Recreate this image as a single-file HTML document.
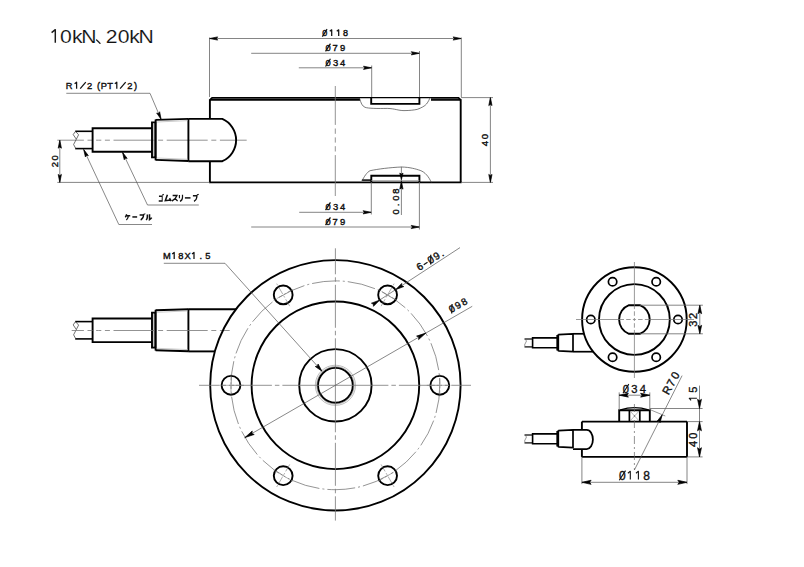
<!DOCTYPE html>
<html><head><meta charset="utf-8"><style>
html,body{margin:0;padding:0;background:#fff;width:804px;height:567px;overflow:hidden}
svg{display:block}
text{font-family:"Liberation Sans",sans-serif}
</style></head><body>
<svg width="804" height="567" viewBox="0 0 804 567">
<rect width="804" height="567" fill="#fff"/>
<path d="M55.3,42.8 V29.6 L51.6,32.6" stroke="#1a1a1a" stroke-width="1.45" fill="none" stroke-linejoin="round"/>
<text transform="translate(65.90,42.8) scale(1.12,1)" font-size="18.9" text-anchor="middle" fill="#111" stroke="#fff" stroke-width="0.12">0</text>
<text transform="translate(77.30,42.8) scale(1.12,1)" font-size="18.9" text-anchor="middle" fill="#111" stroke="#fff" stroke-width="0.12">k</text>
<text transform="translate(89.00,42.8) scale(1.12,1)" font-size="18.9" text-anchor="middle" fill="#111" stroke="#fff" stroke-width="0.12">N</text>
<text transform="translate(111.75,42.8) scale(1.12,1)" font-size="18.9" text-anchor="middle" fill="#111" stroke="#fff" stroke-width="0.12">2</text>
<text transform="translate(123.75,42.8) scale(1.12,1)" font-size="18.9" text-anchor="middle" fill="#111" stroke="#fff" stroke-width="0.12">0</text>
<text transform="translate(134.55,42.8) scale(1.12,1)" font-size="18.9" text-anchor="middle" fill="#111" stroke="#fff" stroke-width="0.12">k</text>
<text transform="translate(146.10,42.8) scale(1.12,1)" font-size="18.9" text-anchor="middle" fill="#111" stroke="#fff" stroke-width="0.12">N</text>
<path d="M96.6,39.9 Q98.6,41.6 100.0,43.4" stroke="#1a1a1a" stroke-width="1.3" fill="none" stroke-linecap="round"/>
<line x1="209.90" y1="99.20" x2="209.90" y2="118.90" stroke="#000" stroke-width="1.9" fill="none" />
<line x1="209.90" y1="161.20" x2="209.90" y2="182.40" stroke="#000" stroke-width="1.9" fill="none" />
<line x1="460.70" y1="99.20" x2="460.70" y2="182.40" stroke="#000" stroke-width="1.9" fill="none" />
<path d="M209.90,99.9 L212.10,97.9 L360,97.9 M431,97.9 L458.50,97.9 L460.70,99.9" stroke="#000" stroke-width="1.8" fill="none" stroke-linejoin="miter"/>
<line x1="209.90" y1="99.90" x2="360.00" y2="99.90" stroke="#000" stroke-width="1.7" />
<line x1="431.00" y1="99.90" x2="460.70" y2="99.90" stroke="#000" stroke-width="1.7" />
<line x1="360.00" y1="97.60" x2="431.00" y2="97.60" stroke="#000" stroke-width="1.35" />
<path d="M371.20,97.60 L371.20,103.90 L419.40,103.90 L419.40,97.60" stroke="#000" stroke-width="1.9" fill="none"/>
<path d="M359.7,98.5 C361,103 362,106 365,107.3 C368,108.5 378,108.6 387.3,108.4 C395,108.6 398,110.6 404,110.6 C410,110.6 414,110 417.2,109.4 C421,108 425,106 426.5,104 C428.5,101.5 429.5,99 430,97.6" stroke="#444" stroke-width="0.7" fill="none"/>
<line x1="209.00" y1="182.40" x2="461.60" y2="182.40" stroke="#000" stroke-width="1.9" fill="none" />
<path d="M371.30,182.40 L371.30,175.70 L419.40,175.70 L419.40,182.40" stroke="#000" stroke-width="1.9" fill="none"/>
<line x1="361.90" y1="180.10" x2="371.30" y2="180.10" stroke="#000" stroke-width="1.5" />
<line x1="371.30" y1="180.60" x2="419.40" y2="180.60" stroke="#999" stroke-width="0.8" />
<path d="M361.9,181 C364,177 367,172 370.1,170.7 C378,169 390,167.5 401.5,167 C410,167.2 416,169 420.1,170.4 C425,172 429,177 431.3,182.4" stroke="#444" stroke-width="0.7" fill="none"/>
<path d="M335.30,140.00 L335.30,142.60 M335.30,146.20 L335.30,151.50 M335.30,155.10 L335.30,196.00 M335.30,140.00 L335.30,137.40 M335.30,133.80 L335.30,128.50 M335.30,124.90 L335.30,86.00 " stroke="#777" stroke-width="0.8" fill="none"/>
<path d="M98.70,140.20 L101.30,140.20 M104.90,140.20 L109.90,140.20 M113.50,140.20 L154.50,140.20 M158.10,140.20 L163.10,140.20 M166.70,140.20 L207.70,140.20 M211.30,140.20 L216.30,140.20 M219.90,140.20 L246.70,140.20 M98.70,140.20 L96.10,140.20 M92.50,140.20 L87.50,140.20 M83.90,140.20 L57.30,140.20 " stroke="#777" stroke-width="0.8" fill="none"/>
<line x1="209.50" y1="38.50" x2="461.30" y2="38.50" stroke="#666" stroke-width="0.8" fill="none" />
<line x1="209.50" y1="37.50" x2="209.50" y2="97.00" stroke="#666" stroke-width="0.8" fill="none" />
<line x1="461.30" y1="37.50" x2="461.30" y2="97.00" stroke="#666" stroke-width="0.8" fill="none" />
<path d="M209.70,38.50 L217.70,36.88 L216.42,38.50 L217.70,40.12 Z" fill="#000" stroke="#000" stroke-width="0.7" stroke-linejoin="round"/>
<path d="M461.10,38.50 L453.10,40.12 L454.38,38.50 L453.10,36.88 Z" fill="#000" stroke="#000" stroke-width="0.7" stroke-linejoin="round"/>
<g><text x="324.70" y="36.10" font-size="9.0" font-weight="normal" text-anchor="middle" fill="#111" stroke="#111" stroke-width="0.4">0</text><line x1="322.36" y1="36.70" x2="327.04" y2="29.20" stroke="#111" stroke-width="1.25"/><path d="M331.70,36.10 V29.80 L329.76,31.33" stroke="#111" stroke-width="1.25" fill="none" stroke-linejoin="round"/><path d="M338.70,36.10 V29.80 L336.76,31.33" stroke="#111" stroke-width="1.25" fill="none" stroke-linejoin="round"/><text x="345.50" y="36.10" font-size="9.0" font-weight="normal" text-anchor="middle" fill="#111" stroke="#111" stroke-width="0.4">8</text></g>
<line x1="251.20" y1="53.30" x2="419.50" y2="53.30" stroke="#666" stroke-width="0.8" fill="none" />
<line x1="419.50" y1="51.00" x2="419.50" y2="97.00" stroke="#666" stroke-width="0.8" fill="none" />
<path d="M419.30,53.30 L411.30,54.92 L412.58,53.30 L411.30,51.68 Z" fill="#000" stroke="#000" stroke-width="0.7" stroke-linejoin="round"/>
<g><text x="328.00" y="50.80" font-size="9.4" font-weight="normal" text-anchor="middle" fill="#111" stroke="#111" stroke-width="0.4">0</text><line x1="325.56" y1="51.40" x2="330.44" y2="43.62" stroke="#111" stroke-width="1.25"/><text x="335.20" y="50.80" font-size="9.4" font-weight="normal" text-anchor="middle" fill="#111" stroke="#111" stroke-width="0.4">7</text><text x="342.50" y="50.80" font-size="9.4" font-weight="normal" text-anchor="middle" fill="#111" stroke="#111" stroke-width="0.4">9</text></g>
<line x1="298.80" y1="67.80" x2="371.70" y2="67.80" stroke="#666" stroke-width="0.8" fill="none" />
<line x1="371.70" y1="65.50" x2="371.70" y2="97.00" stroke="#666" stroke-width="0.8" fill="none" />
<path d="M371.50,67.80 L363.50,69.42 L364.78,67.80 L363.50,66.18 Z" fill="#000" stroke="#000" stroke-width="0.7" stroke-linejoin="round"/>
<g><text x="328.00" y="65.90" font-size="9.4" font-weight="normal" text-anchor="middle" fill="#111" stroke="#111" stroke-width="0.4">0</text><line x1="325.56" y1="66.50" x2="330.44" y2="58.72" stroke="#111" stroke-width="1.25"/><text x="335.50" y="65.90" font-size="9.4" font-weight="normal" text-anchor="middle" fill="#111" stroke="#111" stroke-width="0.4">3</text><text x="342.60" y="65.90" font-size="9.4" font-weight="normal" text-anchor="middle" fill="#111" stroke="#111" stroke-width="0.4">4</text></g>
<line x1="461.00" y1="97.60" x2="493.00" y2="97.60" stroke="#666" stroke-width="0.8" fill="none" />
<line x1="461.00" y1="182.40" x2="493.00" y2="182.40" stroke="#666" stroke-width="0.8" fill="none" />
<line x1="490.40" y1="97.60" x2="490.40" y2="182.40" stroke="#666" stroke-width="0.8" fill="none" />
<path d="M490.40,97.60 L492.02,105.60 L490.40,104.32 L488.78,105.60 Z" fill="#000" stroke="#000" stroke-width="0.7" stroke-linejoin="round"/>
<path d="M490.40,182.40 L488.78,174.40 L490.40,175.68 L492.02,174.40 Z" fill="#000" stroke="#000" stroke-width="0.7" stroke-linejoin="round"/>
<g transform="translate(488.00,0) rotate(-90)"><text x="-143.60" y="0.00" font-size="9.6" font-weight="normal" text-anchor="middle" fill="#111" stroke="#111" stroke-width="0.4">4</text><text x="-136.65" y="0.00" font-size="9.6" font-weight="normal" text-anchor="middle" fill="#111" stroke="#111" stroke-width="0.4">0</text></g>
<line x1="371.30" y1="182.00" x2="371.30" y2="214.50" stroke="#666" stroke-width="0.8" fill="none" />
<line x1="419.40" y1="182.00" x2="419.40" y2="229.50" stroke="#666" stroke-width="0.8" fill="none" />
<line x1="299.20" y1="212.30" x2="371.30" y2="212.30" stroke="#666" stroke-width="0.8" fill="none" />
<path d="M371.10,212.30 L363.10,213.92 L364.38,212.30 L363.10,210.68 Z" fill="#000" stroke="#000" stroke-width="0.7" stroke-linejoin="round"/>
<line x1="251.20" y1="227.00" x2="419.40" y2="227.00" stroke="#666" stroke-width="0.8" fill="none" />
<path d="M419.20,227.00 L411.20,228.62 L412.48,227.00 L411.20,225.38 Z" fill="#000" stroke="#000" stroke-width="0.7" stroke-linejoin="round"/>
<g><text x="328.00" y="209.60" font-size="9.4" font-weight="normal" text-anchor="middle" fill="#111" stroke="#111" stroke-width="0.4">0</text><line x1="325.56" y1="210.20" x2="330.44" y2="202.42" stroke="#111" stroke-width="1.25"/><text x="335.50" y="209.60" font-size="9.4" font-weight="normal" text-anchor="middle" fill="#111" stroke="#111" stroke-width="0.4">3</text><text x="342.60" y="209.60" font-size="9.4" font-weight="normal" text-anchor="middle" fill="#111" stroke="#111" stroke-width="0.4">4</text></g>
<g><text x="328.00" y="224.50" font-size="9.4" font-weight="normal" text-anchor="middle" fill="#111" stroke="#111" stroke-width="0.4">0</text><line x1="325.56" y1="225.10" x2="330.44" y2="217.32" stroke="#111" stroke-width="1.25"/><text x="335.20" y="224.50" font-size="9.4" font-weight="normal" text-anchor="middle" fill="#111" stroke="#111" stroke-width="0.4">7</text><text x="342.50" y="224.50" font-size="9.4" font-weight="normal" text-anchor="middle" fill="#111" stroke="#111" stroke-width="0.4">9</text></g>
<line x1="401.40" y1="166.80" x2="401.40" y2="215.00" stroke="#666" stroke-width="0.8" fill="none" />
<path d="M401.40,179.60 L399.78,173.10 L401.40,174.14 L403.02,173.10 Z" fill="#000" stroke="#000" stroke-width="0.7" stroke-linejoin="round"/>
<path d="M401.40,181.20 L403.02,189.20 L401.40,187.92 L399.78,189.20 Z" fill="#000" stroke="#000" stroke-width="0.7" stroke-linejoin="round"/>
<g transform="translate(398.70,0) rotate(-90)"><text x="-211.90" y="0.00" font-size="9.4" font-weight="normal" text-anchor="middle" fill="#111" stroke="#111" stroke-width="0.4">0</text><text x="-204.90" y="0.00" font-size="9.4" font-weight="normal" text-anchor="middle" fill="#111" stroke="#111" stroke-width="0.4">.</text><text x="-198.10" y="0.00" font-size="9.4" font-weight="normal" text-anchor="middle" fill="#111" stroke="#111" stroke-width="0.4">0</text><text x="-191.20" y="0.00" font-size="9.4" font-weight="normal" text-anchor="middle" fill="#111" stroke="#111" stroke-width="0.4">8</text></g>
<line x1="57.30" y1="182.40" x2="209.90" y2="182.40" stroke="#666" stroke-width="0.8" fill="none" />
<line x1="59.80" y1="140.20" x2="59.80" y2="182.40" stroke="#666" stroke-width="0.8" fill="none" />
<path d="M59.80,140.20 L61.42,148.20 L59.80,146.92 L58.18,148.20 Z" fill="#000" stroke="#000" stroke-width="0.7" stroke-linejoin="round"/>
<path d="M59.80,182.40 L58.18,174.40 L59.80,175.68 L61.42,174.40 Z" fill="#000" stroke="#000" stroke-width="0.7" stroke-linejoin="round"/>
<g transform="translate(57.80,0) rotate(-90)"><text x="-164.55" y="0.00" font-size="9.4" font-weight="normal" text-anchor="middle" fill="#111" stroke="#111" stroke-width="0.4">2</text><text x="-157.90" y="0.00" font-size="9.4" font-weight="normal" text-anchor="middle" fill="#111" stroke="#111" stroke-width="0.4">0</text></g>
<line x1="75.20" y1="131.30" x2="92.60" y2="131.30" stroke="#000" stroke-width="1.6" />
<line x1="75.20" y1="148.60" x2="92.60" y2="148.60" stroke="#000" stroke-width="1.6" />
<path d="M75.5,131.30 L78.6,134.80 L73.6,144.50 L75.8,148.60 M75.5,131.30 L73.2,134.60 L76.2,139.00" stroke="#333" stroke-width="0.7" fill="none"/>
<path d="M152.00,128.20 L92.60,128.20 L92.60,151.80 L152.00,151.80" stroke="#000" stroke-width="1.9" fill="none"/>
<path d="M152.00,122.40 L155.40,122.40 L155.40,157.20 L152.00,157.20 Z" stroke="#000" stroke-width="1.9" fill="none"/>
<line x1="153.70" y1="123.00" x2="153.70" y2="156.60" stroke="#999" stroke-width="0.7" />
<path d="M155.60,119.90 L188.40,118.90" stroke="#000" stroke-width="1.9" fill="none"/>
<path d="M155.60,159.90 L188.40,161.00" stroke="#000" stroke-width="1.9" fill="none"/>
<line x1="155.60" y1="119.50" x2="155.60" y2="160.30" stroke="#000" stroke-width="1.9" fill="none" />
<line x1="188.40" y1="118.50" x2="188.40" y2="161.40" stroke="#000" stroke-width="1.9" fill="none" />
<line x1="157.00" y1="122.00" x2="188.00" y2="120.60" stroke="#aaa" stroke-width="0.6" />
<line x1="157.00" y1="158.00" x2="188.00" y2="159.30" stroke="#aaa" stroke-width="0.6" />
<path d="M188.4,118.9 L222.3,118.9 A23.1,23.1 0 0 1 222.3,161.2 L188.4,161.2" stroke="#000" stroke-width="1.9" fill="none"/>
<line x1="66.30" y1="93.30" x2="150.00" y2="93.30" stroke="#555" stroke-width="0.7" fill="none" />
<line x1="150.00" y1="93.30" x2="161.10" y2="119.30" stroke="#555" stroke-width="0.7" fill="none" />
<path d="M161.10,119.30 L156.67,113.04 L158.63,113.51 L159.65,111.77 Z" fill="#000" stroke="#000" stroke-width="0.7" stroke-linejoin="round"/>
<g><text x="69.20" y="88.70" font-size="9.3" font-weight="normal" text-anchor="middle" fill="#111" stroke="#111" stroke-width="0.4">R</text><path d="M76.60,88.70 V82.19 L74.61,83.77" stroke="#111" stroke-width="1.25" fill="none" stroke-linejoin="round"/><line x1="80.21" y1="88.70" x2="85.79" y2="82.19" stroke="#111" stroke-width="1.25"/><text x="89.60" y="88.70" font-size="9.3" font-weight="normal" text-anchor="middle" fill="#111" stroke="#111" stroke-width="0.4">2</text><text x="98.60" y="88.70" font-size="9.3" font-weight="normal" text-anchor="middle" fill="#111" stroke="#111" stroke-width="0.4">(</text><text x="103.90" y="88.70" font-size="9.3" font-weight="normal" text-anchor="middle" fill="#111" stroke="#111" stroke-width="0.4">P</text><text x="110.20" y="88.70" font-size="9.3" font-weight="normal" text-anchor="middle" fill="#111" stroke="#111" stroke-width="0.4">T</text><path d="M116.80,88.70 V82.19 L114.81,83.77" stroke="#111" stroke-width="1.25" fill="none" stroke-linejoin="round"/><line x1="120.11" y1="88.70" x2="125.69" y2="82.19" stroke="#111" stroke-width="1.25"/><text x="129.80" y="88.70" font-size="9.3" font-weight="normal" text-anchor="middle" fill="#111" stroke="#111" stroke-width="0.4">2</text><text x="135.60" y="88.70" font-size="9.3" font-weight="normal" text-anchor="middle" fill="#111" stroke="#111" stroke-width="0.4">)</text></g>
<line x1="122.50" y1="152.30" x2="147.50" y2="205.00" stroke="#555" stroke-width="0.7" fill="none" />
<line x1="147.50" y1="205.00" x2="198.80" y2="205.00" stroke="#555" stroke-width="0.7" fill="none" />
<path d="M122.50,152.30 L127.18,158.38 L125.20,157.99 L124.25,159.77 Z" fill="#000" stroke="#000" stroke-width="0.7" stroke-linejoin="round"/>
<line x1="83.70" y1="149.50" x2="118.80" y2="224.50" stroke="#555" stroke-width="0.7" fill="none" />
<line x1="118.80" y1="224.50" x2="152.00" y2="224.50" stroke="#555" stroke-width="0.7" fill="none" />
<path d="M83.70,149.50 L88.35,155.61 L86.37,155.21 L85.41,156.98 Z" fill="#000" stroke="#000" stroke-width="0.7" stroke-linejoin="round"/>
<path transform="translate(158.50,194.40) scale(0.4636,0.7000)" d="M1,2.5 H8 V9.5 M0.5,9.5 H9 M8.7,0 L9.4,1.4 M10.2,-0.3 L10.9,1.1" stroke="#111" stroke-width="2.143" fill="none" stroke-linecap="butt" stroke-linejoin="miter"/>
<path transform="translate(164.60,194.40) scale(0.7000,0.7000)" d="M4,0.5 L1,9 L9,8 M7,5.5 L9.5,9.5" stroke="#111" stroke-width="2.143" fill="none" stroke-linecap="butt" stroke-linejoin="miter"/>
<path transform="translate(171.70,194.40) scale(0.6200,0.7000)" d="M1.5,1.5 H8.5 C7,5 4,8 0.5,9.5 M5,5.5 L9.5,9.5" stroke="#111" stroke-width="2.143" fill="none" stroke-linecap="butt" stroke-linejoin="miter"/>
<path transform="translate(178.30,194.40) scale(0.5600,0.7000)" d="M2,1 V5.5 M7.5,0.5 V4 C7.5,7 5.5,9 3,10" stroke="#111" stroke-width="2.143" fill="none" stroke-linecap="butt" stroke-linejoin="miter"/>
<path transform="translate(184.60,194.40) scale(0.6200,0.7000)" d="M0.5,5 H9.5" stroke="#111" stroke-width="2.143" fill="none" stroke-linecap="butt" stroke-linejoin="miter"/>
<path transform="translate(192.35,194.40) scale(0.5455,0.7000)" d="M1,2 H8.5 C8.5,5 7,8 3,10 M8.9,-0.2 L9.6,1.2 M10.4,-0.5 L11.1,0.9" stroke="#111" stroke-width="2.143" fill="none" stroke-linecap="butt" stroke-linejoin="miter"/>
<path transform="translate(125.00,213.90) scale(0.5500,0.6100)" d="M3,0.5 C2.5,2.5 1.5,4 0.5,5.5 M2,3 H9.5 M6,3 C6,6 4.5,8.5 2.5,10" stroke="#111" stroke-width="2.459" fill="none" stroke-linecap="butt" stroke-linejoin="miter"/>
<path transform="translate(132.10,213.90) scale(0.5300,0.6100)" d="M0.5,5 H9.5" stroke="#111" stroke-width="2.459" fill="none" stroke-linecap="butt" stroke-linejoin="miter"/>
<path transform="translate(139.10,213.90) scale(0.5273,0.6100)" d="M1,2 H8.5 C8.5,5 7,8 3,10 M8.9,-0.2 L9.6,1.2 M10.4,-0.5 L11.1,0.9" stroke="#111" stroke-width="2.459" fill="none" stroke-linecap="butt" stroke-linejoin="miter"/>
<path transform="translate(145.80,213.90) scale(0.6200,0.6100)" d="M2.5,1 V5 C2.5,7.5 1.5,9 0.5,10 M6,0.5 V9.5 C7.5,8.5 8.5,7.5 9.5,6" stroke="#111" stroke-width="2.459" fill="none" stroke-linecap="butt" stroke-linejoin="miter"/>
<line x1="75.20" y1="321.60" x2="92.60" y2="321.60" stroke="#000" stroke-width="1.6" />
<line x1="75.20" y1="338.90" x2="92.60" y2="338.90" stroke="#000" stroke-width="1.6" />
<path d="M75.5,321.60 L78.6,325.10 L73.6,334.80 L75.8,338.90 M75.5,321.60 L73.2,324.90 L76.2,329.30" stroke="#333" stroke-width="0.7" fill="none"/>
<path d="M152.00,318.50 L92.60,318.50 L92.60,342.10 L152.00,342.10" stroke="#000" stroke-width="1.9" fill="none"/>
<path d="M152.00,312.70 L155.40,312.70 L155.40,347.50 L152.00,347.50 Z" stroke="#000" stroke-width="1.9" fill="none"/>
<line x1="153.70" y1="313.30" x2="153.70" y2="346.90" stroke="#999" stroke-width="0.7" />
<path d="M155.60,310.20 L188.40,309.20" stroke="#000" stroke-width="1.9" fill="none"/>
<path d="M155.60,350.20 L188.40,351.30" stroke="#000" stroke-width="1.9" fill="none"/>
<line x1="155.60" y1="309.80" x2="155.60" y2="350.60" stroke="#000" stroke-width="1.9" fill="none" />
<line x1="188.40" y1="308.80" x2="188.40" y2="351.70" stroke="#000" stroke-width="1.9" fill="none" />
<line x1="157.00" y1="312.30" x2="188.00" y2="310.90" stroke="#aaa" stroke-width="0.6" />
<line x1="157.00" y1="348.30" x2="188.00" y2="349.60" stroke="#aaa" stroke-width="0.6" />
<path d="M98.70,330.50 L101.30,330.50 M104.90,330.50 L109.90,330.50 M113.50,330.50 L154.50,330.50 M158.10,330.50 L163.10,330.50 M166.70,330.50 L207.70,330.50 M211.30,330.50 L216.30,330.50 M219.90,330.50 L229.70,330.50 M98.70,330.50 L96.10,330.50 M92.50,330.50 L87.50,330.50 M83.90,330.50 L71.70,330.50 " stroke="#777" stroke-width="0.8" fill="none"/>
<line x1="188.40" y1="309.20" x2="235.98" y2="309.20" stroke="#000" stroke-width="1.9" fill="none" />
<line x1="188.40" y1="351.40" x2="214.88" y2="351.40" stroke="#000" stroke-width="1.9" fill="none" />
<circle cx="335.40" cy="385.30" r="125.20" stroke="#000" stroke-width="1.9" fill="none" />
<circle cx="335.40" cy="385.30" r="83.80" stroke="#000" stroke-width="1.9" fill="none" />
<circle cx="335.40" cy="385.30" r="36.20" stroke="#000" stroke-width="1.9" fill="none" />
<circle cx="335.40" cy="385.30" r="17.40" stroke="#000" stroke-width="1.9" fill="none" />
<circle cx="335.40" cy="385.30" r="18.70" stroke="#666" stroke-width="0.55" fill="none" />
<circle cx="335.40" cy="385.30" r="20.10" stroke="#888" stroke-width="0.55" fill="none" />
<circle cx="335.40" cy="385.30" r="104.40" stroke="#666" stroke-width="0.7" fill="none" stroke-dasharray="28 3 2 3" />
<circle cx="439.80" cy="385.30" r="9.40" stroke="#000" stroke-width="1.9" fill="none" />
<line x1="426.80" y1="385.30" x2="452.80" y2="385.30" stroke="#777" stroke-width="0.6" stroke-dasharray="8 2 2 2" />
<line x1="439.80" y1="396.30" x2="439.80" y2="374.30" stroke="#777" stroke-width="0.6" stroke-dasharray="6 2 2 2" />
<circle cx="387.60" cy="475.71" r="9.40" stroke="#000" stroke-width="1.9" fill="none" />
<line x1="381.10" y1="464.45" x2="394.10" y2="486.97" stroke="#777" stroke-width="0.6" stroke-dasharray="8 2 2 2" />
<line x1="378.07" y1="481.21" x2="397.13" y2="470.21" stroke="#777" stroke-width="0.6" stroke-dasharray="6 2 2 2" />
<circle cx="283.20" cy="475.71" r="9.40" stroke="#000" stroke-width="1.9" fill="none" />
<line x1="289.70" y1="464.45" x2="276.70" y2="486.97" stroke="#777" stroke-width="0.6" stroke-dasharray="8 2 2 2" />
<line x1="273.67" y1="470.21" x2="292.73" y2="481.21" stroke="#777" stroke-width="0.6" stroke-dasharray="6 2 2 2" />
<circle cx="231.00" cy="385.30" r="9.40" stroke="#000" stroke-width="1.9" fill="none" />
<line x1="244.00" y1="385.30" x2="218.00" y2="385.30" stroke="#777" stroke-width="0.6" stroke-dasharray="8 2 2 2" />
<line x1="231.00" y1="374.30" x2="231.00" y2="396.30" stroke="#777" stroke-width="0.6" stroke-dasharray="6 2 2 2" />
<circle cx="283.20" cy="294.89" r="9.40" stroke="#000" stroke-width="1.9" fill="none" />
<line x1="289.70" y1="306.15" x2="276.70" y2="283.63" stroke="#777" stroke-width="0.6" stroke-dasharray="8 2 2 2" />
<line x1="292.73" y1="289.39" x2="273.67" y2="300.39" stroke="#777" stroke-width="0.6" stroke-dasharray="6 2 2 2" />
<circle cx="387.60" cy="294.89" r="9.40" stroke="#000" stroke-width="1.9" fill="none" />
<line x1="381.10" y1="306.15" x2="394.10" y2="283.63" stroke="#777" stroke-width="0.6" stroke-dasharray="8 2 2 2" />
<line x1="397.13" y1="300.39" x2="378.07" y2="289.39" stroke="#777" stroke-width="0.6" stroke-dasharray="6 2 2 2" />
<path d="M335.40,385.30 L335.40,432.30 M335.40,435.30 L335.40,439.80 M335.40,442.80 L335.40,485.80 M335.40,488.80 L335.40,493.30 M335.40,496.30 L335.40,520.60 M335.40,385.30 L335.40,338.30 M335.40,335.30 L335.40,330.80 M335.40,327.80 L335.40,284.80 M335.40,281.80 L335.40,277.30 M335.40,274.30 L335.40,248.30 " stroke="#777" stroke-width="0.8" fill="none"/>
<path d="M335.40,385.30 L388.40,385.30 M391.40,385.30 L395.90,385.30 M398.90,385.30 L441.90,385.30 M444.90,385.30 L449.40,385.30 M452.40,385.30 L471.00,385.30 M335.40,385.30 L282.40,385.30 M279.40,385.30 L274.90,385.30 M271.90,385.30 L228.90,385.30 M225.90,385.30 L221.40,385.30 M218.40,385.30 L199.00,385.30 " stroke="#777" stroke-width="0.8" fill="none"/>
<line x1="244.21" y1="437.95" x2="472.23" y2="306.30" stroke="#555" stroke-width="0.7" fill="none" />
<path d="M244.99,437.50 L252.22,431.02 L251.90,433.51 L254.21,434.48 Z" fill="#000" stroke="#000" stroke-width="0.7" stroke-linejoin="round"/>
<path d="M425.81,333.10 L418.58,339.58 L418.90,337.09 L416.59,336.12 Z" fill="#000" stroke="#000" stroke-width="0.7" stroke-linejoin="round"/>
<g transform="translate(451.3,313.0) rotate(-30)"><text x="2.60" y="0.00" font-size="9.7" font-weight="normal" text-anchor="middle" fill="#111" stroke="#111" stroke-width="0.4">0</text><line x1="0.08" y1="0.60" x2="5.12" y2="-7.39" stroke="#111" stroke-width="1.25"/><text x="9.60" y="0.00" font-size="9.7" font-weight="normal" text-anchor="middle" fill="#111" stroke="#111" stroke-width="0.4">9</text><text x="16.90" y="0.00" font-size="9.7" font-weight="normal" text-anchor="middle" fill="#111" stroke="#111" stroke-width="0.4">8</text></g>
<line x1="372.53" y1="304.73" x2="460.00" y2="247.60" stroke="#555" stroke-width="0.7" fill="none" />
<path d="M395.64,289.64 L401.72,283.41 L401.62,285.73 L403.79,286.57 Z" fill="#000" stroke="#000" stroke-width="0.7" stroke-linejoin="round"/>
<path d="M379.56,300.14 L373.48,306.37 L373.58,304.04 L371.41,303.20 Z" fill="#000" stroke="#000" stroke-width="0.7" stroke-linejoin="round"/>
<g transform="translate(419.4,270.9) rotate(-32)"><text x="2.70" y="0.00" font-size="10.2" font-weight="normal" text-anchor="middle" fill="#111" stroke="#111" stroke-width="0.4">6</text><line x1="6.96" y1="-3.00" x2="11.44" y2="-3.00" stroke="#111" stroke-width="1.25"/><text x="15.60" y="0.00" font-size="10.2" font-weight="normal" text-anchor="middle" fill="#111" stroke="#111" stroke-width="0.4">0</text><line x1="12.95" y1="0.60" x2="18.25" y2="-7.74" stroke="#111" stroke-width="1.25"/><text x="22.30" y="0.00" font-size="10.2" font-weight="normal" text-anchor="middle" fill="#111" stroke="#111" stroke-width="0.4">9</text><text x="28.30" y="0.00" font-size="10.2" font-weight="normal" text-anchor="middle" fill="#111" stroke="#111" stroke-width="0.4">.</text></g>
<line x1="163.80" y1="263.30" x2="225.00" y2="263.30" stroke="#555" stroke-width="0.7" fill="none" />
<line x1="225.00" y1="263.30" x2="322.00" y2="371.20" stroke="#555" stroke-width="0.7" fill="none" />
<path d="M322.00,371.20 L315.25,366.51 L317.51,366.20 L318.06,363.99 Z" fill="#000" stroke="#000" stroke-width="0.7" stroke-linejoin="round"/>
<g><text x="166.75" y="258.90" font-size="9.3" font-weight="normal" text-anchor="middle" fill="#111" stroke="#111" stroke-width="0.4">M</text><path d="M174.20,258.90 V252.39 L172.21,253.97" stroke="#111" stroke-width="1.25" fill="none" stroke-linejoin="round"/><text x="180.90" y="258.90" font-size="9.3" font-weight="normal" text-anchor="middle" fill="#111" stroke="#111" stroke-width="0.4">8</text><text x="187.60" y="258.90" font-size="9.3" font-weight="normal" text-anchor="middle" fill="#111" stroke="#111" stroke-width="0.4">X</text><path d="M194.00,258.90 V252.39 L192.01,253.97" stroke="#111" stroke-width="1.25" fill="none" stroke-linejoin="round"/><text x="200.70" y="258.90" font-size="9.3" font-weight="normal" text-anchor="middle" fill="#111" stroke="#111" stroke-width="0.4">.</text><text x="207.85" y="258.90" font-size="9.3" font-weight="normal" text-anchor="middle" fill="#111" stroke="#111" stroke-width="0.4">5</text></g>
<circle cx="634.40" cy="319.50" r="52.30" stroke="#000" stroke-width="1.9" fill="none" />
<circle cx="634.40" cy="319.50" r="35.40" stroke="#000" stroke-width="1.9" fill="none" />
<circle cx="678.00" cy="319.50" r="4.20" stroke="#000" stroke-width="1.7" fill="none" />
<circle cx="656.20" cy="357.26" r="4.20" stroke="#000" stroke-width="1.7" fill="none" />
<circle cx="612.60" cy="357.26" r="4.20" stroke="#000" stroke-width="1.7" fill="none" />
<circle cx="590.80" cy="319.50" r="4.20" stroke="#000" stroke-width="1.7" fill="none" />
<circle cx="612.60" cy="281.74" r="4.20" stroke="#000" stroke-width="1.7" fill="none" />
<circle cx="656.20" cy="281.74" r="4.20" stroke="#000" stroke-width="1.7" fill="none" />
<path d="M628.96,305.20 L639.84,305.20 A15.3,15.3 0 0 1 639.84,333.80 L628.96,333.80 A15.3,15.3 0 0 1 628.96,305.20 Z" stroke="#000" stroke-width="1.9" fill="none"/>
<path d="M634.40,319.50 L634.40,321.00 M634.40,323.20 L634.40,327.70 M634.40,329.90 L634.40,378.00 M634.40,319.50 L634.40,318.00 M634.40,315.80 L634.40,311.30 M634.40,309.10 L634.40,262.00 " stroke="#777" stroke-width="0.75" fill="none"/>
<path d="M634.40,319.50 L635.90,319.50 M638.10,319.50 L642.60,319.50 M644.80,319.50 L694.00,319.50 M634.40,319.50 L632.90,319.50 M630.70,319.50 L626.20,319.50 M624.00,319.50 L576.00,319.50 " stroke="#777" stroke-width="0.75" fill="none"/>
<line x1="639.84" y1="305.20" x2="702.90" y2="305.20" stroke="#666" stroke-width="0.8" fill="none" />
<line x1="639.84" y1="333.80" x2="702.90" y2="333.80" stroke="#666" stroke-width="0.8" fill="none" />
<line x1="699.80" y1="305.20" x2="699.80" y2="333.80" stroke="#666" stroke-width="0.8" fill="none" />
<path d="M699.80,305.20 L701.64,313.70 L699.80,312.34 L697.96,313.70 Z" fill="#000" stroke="#000" stroke-width="0.7" stroke-linejoin="round"/>
<path d="M699.80,333.80 L697.96,325.30 L699.80,326.66 L701.64,325.30 Z" fill="#000" stroke="#000" stroke-width="0.7" stroke-linejoin="round"/>
<g transform="translate(696.90,0) rotate(-90)"><text x="-323.60" y="0.00" font-size="11.0" font-weight="normal" text-anchor="middle" fill="#111" stroke="#111" stroke-width="0.35">3</text><text x="-315.90" y="0.00" font-size="11.0" font-weight="normal" text-anchor="middle" fill="#111" stroke="#111" stroke-width="0.35">2</text></g>
<line x1="524.50" y1="339.00" x2="532.60" y2="339.00" stroke="#000" stroke-width="1.2" />
<line x1="524.50" y1="346.90" x2="532.60" y2="346.90" stroke="#000" stroke-width="1.2" />
<path d="M525,339 L526.5,341 L524.5,345 L525.5,346.9" stroke="#555" stroke-width="0.6" fill="none"/>
<path d="M557.60,337.90 L532.60,337.90 L532.60,347.80 L557.60,347.80" stroke="#000" stroke-width="1.6" fill="none"/>
<path d="M558.3,334.6 L573,333.8 M558.3,350.8 L573,351.7 M558.3,334.2 L558.3,351.2 M573,333.4 L573,352.1" stroke="#000" stroke-width="1.7" fill="none"/>
<path d="M557.6,335 L557.6,350.5" stroke="#000" stroke-width="2.5" fill="none"/>
<line x1="573.00" y1="333.80" x2="584.09" y2="333.80" stroke="#000" stroke-width="1.7" />
<line x1="573.00" y1="351.70" x2="593.19" y2="351.70" stroke="#000" stroke-width="1.7" />
<line x1="581.90" y1="421.60" x2="687.00" y2="421.60" stroke="#000" stroke-width="1.9" fill="none" />
<line x1="581.90" y1="456.90" x2="687.00" y2="456.90" stroke="#000" stroke-width="1.9" fill="none" />
<line x1="687.00" y1="421.60" x2="687.00" y2="456.90" stroke="#000" stroke-width="1.9" fill="none" />
<line x1="581.90" y1="421.60" x2="581.90" y2="429.80" stroke="#000" stroke-width="1.9" fill="none" />
<line x1="581.90" y1="449.20" x2="581.90" y2="456.90" stroke="#000" stroke-width="1.9" fill="none" />
<path d="M619.2,421.6 L619.2,410.2 L649.8,410.2 L649.8,421.6" stroke="#000" stroke-width="1.9" fill="none"/>
<path d="M620.5,409.8 Q634.5,405.4 648.5,409.8" stroke="#000" stroke-width="1.4" fill="none"/>
<line x1="629.40" y1="410.00" x2="629.40" y2="421.60" stroke="#000" stroke-width="1.7" />
<line x1="639.80" y1="410.00" x2="639.80" y2="421.60" stroke="#000" stroke-width="1.7" />
<line x1="630.20" y1="411.20" x2="639.00" y2="420.80" stroke="#888" stroke-width="0.6" />
<line x1="639.00" y1="411.20" x2="630.20" y2="420.80" stroke="#888" stroke-width="0.6" />
<line x1="634.40" y1="404.00" x2="634.40" y2="470.00" stroke="#666" stroke-width="0.7" stroke-dasharray="8 3 2 3" />
<line x1="524.50" y1="435.00" x2="532.60" y2="435.00" stroke="#000" stroke-width="1.2" />
<line x1="524.50" y1="442.90" x2="532.60" y2="442.90" stroke="#000" stroke-width="1.2" />
<path d="M525,435.0 L526.5,437.0 L524.5,441.0 L525.5,442.9" stroke="#555" stroke-width="0.6" fill="none"/>
<path d="M557.60,433.90 L532.60,433.90 L532.60,443.80 L557.60,443.80" stroke="#000" stroke-width="1.6" fill="none"/>
<path d="M558.3,430.6 L573,429.8 M558.3,446.8 L573,447.7 M558.3,430.2 L558.3,447.2 M573,429.4 L573,448.1" stroke="#000" stroke-width="1.7" fill="none"/>
<path d="M557.6,431.0 L557.6,446.5" stroke="#000" stroke-width="2.5" fill="none"/>
<path d="M573,429.8 L586.7,429.8 A6.2,9.7 0 0 1 586.7,449.2 L573,449.2" stroke="#000" stroke-width="1.8" fill="none"/>
<line x1="619.20" y1="410.00" x2="619.20" y2="392.40" stroke="#666" stroke-width="0.8" fill="none" />
<line x1="649.80" y1="410.00" x2="649.80" y2="392.40" stroke="#666" stroke-width="0.8" fill="none" />
<line x1="619.20" y1="395.20" x2="649.80" y2="395.20" stroke="#666" stroke-width="0.8" fill="none" />
<path d="M619.20,395.20 L628.40,393.26 L626.93,395.20 L628.40,397.14 Z" fill="#000" stroke="#000" stroke-width="0.7" stroke-linejoin="round"/>
<path d="M649.80,395.20 L640.60,397.14 L642.07,395.20 L640.60,393.26 Z" fill="#000" stroke="#000" stroke-width="0.7" stroke-linejoin="round"/>
<g><text x="625.90" y="392.60" font-size="11.2" font-weight="normal" text-anchor="middle" fill="#111" stroke="#111" stroke-width="0.35">0</text><line x1="622.99" y1="393.20" x2="628.81" y2="384.16" stroke="#111" stroke-width="1.1"/><text x="634.30" y="392.60" font-size="11.2" font-weight="normal" text-anchor="middle" fill="#111" stroke="#111" stroke-width="0.35">3</text><text x="642.80" y="392.60" font-size="11.2" font-weight="normal" text-anchor="middle" fill="#111" stroke="#111" stroke-width="0.35">4</text></g>
<line x1="682.10" y1="375.60" x2="634.40" y2="470.00" stroke="#555" stroke-width="0.7" fill="none" />
<path d="M662.20,414.80 L660.04,422.67 L659.17,420.80 L657.15,421.21 Z" fill="#000" stroke="#000" stroke-width="0.7" stroke-linejoin="round"/>
<line x1="649.80" y1="409.50" x2="665.30" y2="416.00" stroke="#555" stroke-width="0.6" />
<g transform="translate(668.9,394.7) rotate(-61)"><text x="3.20" y="0.00" font-size="11.2" font-weight="normal" text-anchor="middle" fill="#111" stroke="#111" stroke-width="0.35">R</text><text x="11.40" y="0.00" font-size="11.2" font-weight="normal" text-anchor="middle" fill="#111" stroke="#111" stroke-width="0.35">7</text><text x="19.80" y="0.00" font-size="11.2" font-weight="normal" text-anchor="middle" fill="#111" stroke="#111" stroke-width="0.35">0</text></g>
<line x1="649.80" y1="408.50" x2="702.60" y2="408.50" stroke="#666" stroke-width="0.8" fill="none" />
<line x1="687.00" y1="421.60" x2="702.60" y2="421.60" stroke="#666" stroke-width="0.8" fill="none" />
<line x1="687.00" y1="456.90" x2="702.60" y2="456.90" stroke="#666" stroke-width="0.8" fill="none" />
<line x1="699.50" y1="385.60" x2="699.50" y2="456.90" stroke="#666" stroke-width="0.8" fill="none" />
<path d="M699.50,408.50 L697.56,399.30 L699.50,400.77 L701.44,399.30 Z" fill="#000" stroke="#000" stroke-width="0.7" stroke-linejoin="round"/>
<path d="M699.50,421.60 L701.44,430.80 L699.50,429.33 L697.56,430.80 Z" fill="#000" stroke="#000" stroke-width="0.7" stroke-linejoin="round"/>
<path d="M699.50,456.90 L697.56,447.70 L699.50,449.17 L701.44,447.70 Z" fill="#000" stroke="#000" stroke-width="0.7" stroke-linejoin="round"/>
<g transform="translate(696.90,0) rotate(-90)"><path d="M-398.20,0.00 V-7.70 L-400.46,-5.83" stroke="#111" stroke-width="1.1" fill="none" stroke-linejoin="round"/><text x="-389.80" y="0.00" font-size="11.0" font-weight="normal" text-anchor="middle" fill="#111" stroke="#111" stroke-width="0.35">5</text></g>
<g transform="translate(696.90,0) rotate(-90)"><text x="-443.90" y="0.00" font-size="11.0" font-weight="normal" text-anchor="middle" fill="#111" stroke="#111" stroke-width="0.35">4</text><text x="-435.70" y="0.00" font-size="11.0" font-weight="normal" text-anchor="middle" fill="#111" stroke="#111" stroke-width="0.35">0</text></g>
<line x1="581.90" y1="456.90" x2="581.90" y2="484.10" stroke="#666" stroke-width="0.8" fill="none" />
<line x1="687.00" y1="456.90" x2="687.00" y2="484.10" stroke="#666" stroke-width="0.8" fill="none" />
<line x1="581.90" y1="482.30" x2="687.00" y2="482.30" stroke="#666" stroke-width="0.8" fill="none" />
<path d="M581.90,482.30 L591.10,480.25 L589.63,482.30 L591.10,484.35 Z" fill="#000" stroke="#000" stroke-width="0.7" stroke-linejoin="round"/>
<path d="M687.00,482.30 L677.80,484.35 L679.27,482.30 L677.80,480.25 Z" fill="#000" stroke="#000" stroke-width="0.7" stroke-linejoin="round"/>
<g><text x="622.40" y="479.60" font-size="12.0" font-weight="normal" text-anchor="middle" fill="#111" stroke="#111" stroke-width="0.35">0</text><line x1="619.28" y1="480.20" x2="625.52" y2="470.60" stroke="#111" stroke-width="1.1"/><path d="M630.30,479.60 V471.20 L627.88,473.24" stroke="#111" stroke-width="1.1" fill="none" stroke-linejoin="round"/><path d="M638.40,479.60 V471.20 L635.98,473.24" stroke="#111" stroke-width="1.1" fill="none" stroke-linejoin="round"/><text x="646.60" y="479.60" font-size="12.0" font-weight="normal" text-anchor="middle" fill="#111" stroke="#111" stroke-width="0.35">8</text></g>
</svg>
</body></html>
